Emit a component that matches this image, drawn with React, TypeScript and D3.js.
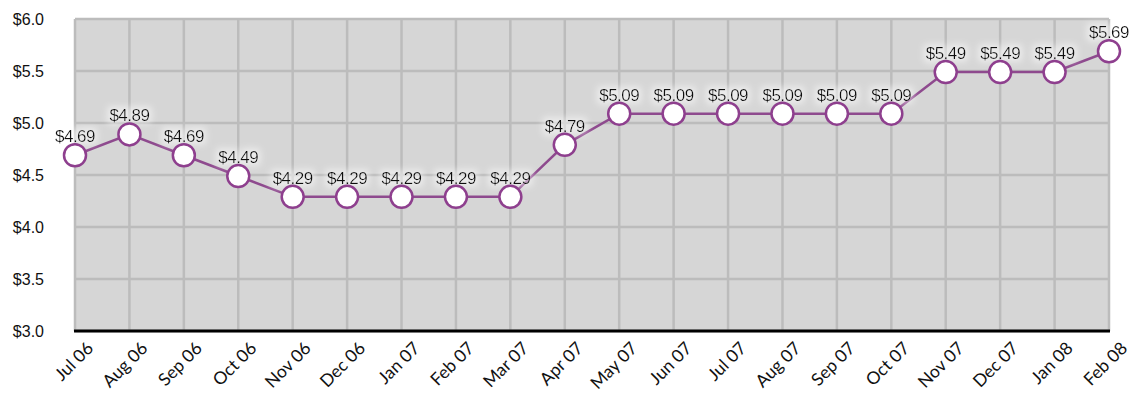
import React, { useEffect, useRef } from "react";
import * as d3 from "d3";

const months = [
  "Jul 06", "Aug 06", "Sep 06", "Oct 06", "Nov 06", "Dec 06", "Jan 07", "Feb 07", "Mar 07", "Apr 07",
  "May 07", "Jun 07", "Jul 07", "Aug 07", "Sep 07", "Oct 07", "Nov 07", "Dec 07", "Jan 08", "Feb 08",
];
const prices = [
  4.69, 4.89, 4.69, 4.49, 4.29, 4.29, 4.29, 4.29, 4.29, 4.79,
  5.09, 5.09, 5.09, 5.09, 5.09, 5.09, 5.49, 5.49, 5.49, 5.69,
];
const yTicks = [3.0, 3.5, 4.0, 4.5, 5.0, 5.5, 6.0];

export default function App() {
  const ref = useRef<SVGSVGElement>(null);

  useEffect(() => {
    const svg = d3.select(ref.current);
    svg.selectAll("*").remove();

    const left = 75, right = 1109, top = 19, bottom = 331;

    const x = d3.scalePoint<string>().domain(months).range([left, right]);
    const y = d3.scaleLinear().domain([3, 6]).range([bottom, top]);

    const defs = svg.append("defs");
    const f = defs.append("filter").attr("id", "halo").attr("x", "-20%").attr("y", "-40%")
      .attr("width", "140%").attr("height", "180%");
    f.append("feMorphology").attr("in", "SourceAlpha").attr("operator", "dilate").attr("radius", 3).attr("result", "d");
    f.append("feGaussianBlur").attr("in", "d").attr("stdDeviation", 3).attr("result", "b");
    f.append("feFlood").attr("flood-color", "#ffffff").attr("flood-opacity", 0.5);
    f.append("feComposite").attr("in2", "b").attr("operator", "in").attr("result", "h");
    const m = f.append("feMerge");
    m.append("feMergeNode").attr("in", "h");
    m.append("feMergeNode").attr("in", "SourceGraphic");

    // plot background
    svg.append("rect")
      .attr("x", left).attr("y", top)
      .attr("width", right - left).attr("height", bottom - top)
      .attr("fill", "#d6d6d6");

    // grid
    svg.append("g").selectAll("line").data(yTicks).join("line")
      .attr("x1", left).attr("x2", right)
      .attr("y1", d => y(d)).attr("y2", d => y(d))
      .attr("stroke", "#bcbcbc").attr("stroke-width", 2.5);
    svg.append("g").selectAll("line").data(months).join("line")
      .attr("x1", d => x(d)!).attr("x2", d => x(d)!)
      .attr("y1", top).attr("y2", bottom)
      .attr("stroke", "#bcbcbc").attr("stroke-width", 2.5);

    // bottom axis line
    svg.append("line")
      .attr("x1", left - 1).attr("x2", right + 1)
      .attr("y1", bottom).attr("y2", bottom)
      .attr("stroke", "#000").attr("stroke-width", 3);

    // y labels
    svg.append("g").selectAll("text").data(yTicks).join("text")
      .attr("x", 44).attr("y", d => y(d) + 6)
      .attr("text-anchor", "end")
      .style("font-family", "Liberation Sans, Arial, sans-serif")
      .style("font-size", "16px")
      .attr("fill", "#111")
      .text(d => "$" + d.toFixed(1));

    // x labels
    svg.append("g").selectAll("text").data(months).join("text")
      .attr("transform", d => `translate(${x(d)! + 15},${bottom + 14}) rotate(-45)`)
      .attr("text-anchor", "end")
      .attr("dy", "0.35em")
      .style("font-family", "Lato, sans-serif")
      .style("font-size", "17.5px")
      .attr("fill", "#111")
      .text(d => d);

    // line
    const line = d3.line<number>().x((_, i) => x(months[i])!).y(d => y(d));
    svg.append("path").datum(prices)
      .attr("d", line)
      .attr("fill", "none")
      .attr("stroke", "#8e4a8e")
      .attr("stroke-width", 2.5);

    // value labels
    svg.append("g").attr("filter", "url(#halo)").selectAll("text").data(prices).join("text")
      .attr("x", (_, i) => x(months[i])!)
      .attr("y", d => y(d) - 13)
      .attr("text-anchor", "middle")
      .style("font-family", "Liberation Sans, Arial, sans-serif")
      .style("font-size", "17px")
      .style("letter-spacing", "-0.5px")
      .attr("fill", "#111")
      .text(d => "$" + d.toFixed(2));

    // markers
    svg.append("g").selectAll("circle").data(prices).join("circle")
      .attr("cx", (_, i) => x(months[i])!)
      .attr("cy", d => y(d))
      .attr("r", 11)
      .attr("fill", "#fff")
      .attr("stroke", "#8e3f8e")
      .attr("stroke-width", 2.5);
  }, []);

  return <svg ref={ref} width={1134} height={400} style={{ position: "absolute", left: 0, top: 0 }} />;
}
